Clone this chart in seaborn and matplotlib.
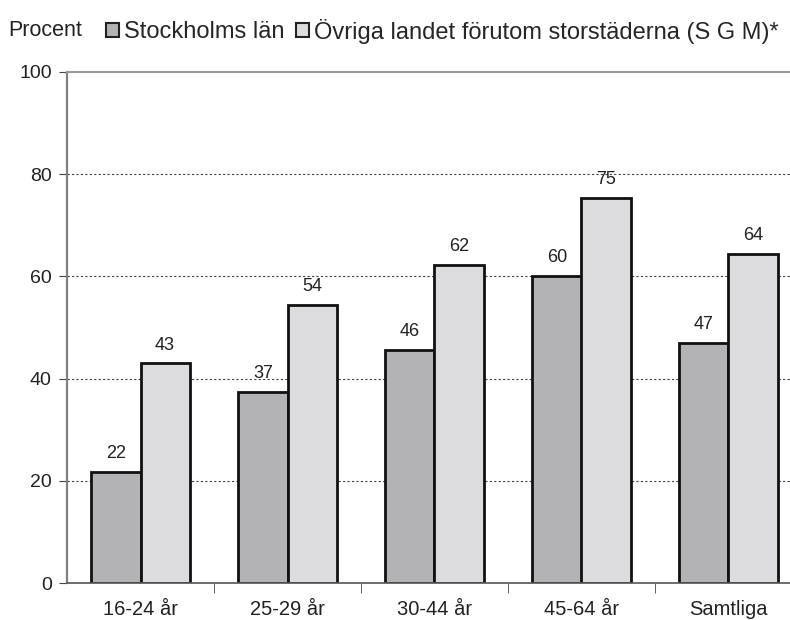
import numpy as np
import pandas as pd
import matplotlib
matplotlib.use("Agg")
import matplotlib.pyplot as plt
import seaborn as sns

categories = ['16-24 år', '25-29 år', '30-44 år', '45-64 år', 'Samtliga']
series = ['Stockholms län', 'Övriga landet förutom storstäderna (S G M)*']
stockholm = [21.7, 37.4, 45.6, 60.1, 47.0]
ovriga = [43.0, 54.4, 62.2, 75.3, 64.4]
colors = ['#b3b3b6', '#dcdcde']

df = pd.DataFrame({
    'Grupp': categories * 2,
    'Serie': [series[0]] * 5 + [series[1]] * 5,
    'Procent': stockholm + ovriga,
})

sns.set_style('white')
plt.rcParams['font.family'] = ['Liberation Sans', 'DejaVu Sans']

fig = plt.figure(figsize=(7.9, 6.2), dpi=100)
ax = fig.add_axes([67 / 790, 1 - 583 / 620, 735 / 790, 511 / 620])

sns.barplot(data=df, x='Grupp', y='Procent', hue='Serie', palette=colors,
            width=0.667, edgecolor='#111111', linewidth=2, saturation=1,
            ax=ax, legend=False)

ax.set_ylim(0, 100)
ax.set_xlim(-0.5, 4.5)
ax.set_yticks([0, 20, 40, 60, 80, 100])
ax.set_xlabel('')
ax.set_ylabel('')

for y in [20, 40, 60, 80]:
    ax.axhline(y, color='#444444', linestyle=(0, (2, 2)), linewidth=0.8, zorder=0)

for cont in ax.containers:
    ax.bar_label(cont, labels=[f'{v:.0f}' for v in cont.datavalues],
                 padding=7, fontsize=13, color='#222222')

ax.spines['right'].set_visible(False)
ax.spines['top'].set_color('#999999')
ax.spines['top'].set_linewidth(1.5)
ax.spines['left'].set_color('#808080')
ax.spines['left'].set_linewidth(1.6)
ax.spines['bottom'].set_color('#555555')
ax.spines['bottom'].set_linewidth(1.2)

ax.tick_params(axis='y', left=True, length=6, color='#444444', labelsize=14,
               labelcolor='#222222', pad=5)
ax.tick_params(axis='x', bottom=False, labelsize=14.5, labelcolor='#222222', pad=9)
ax.set_xticks(np.arange(0.5, 4.5, 1), minor=True)
ax.tick_params(axis='x', which='minor', bottom=True, length=7, color='#444444',
               direction='out')

fig.text(8 / 790, 1 - 30 / 620, 'Procent', fontsize=15.5, va='center', color='#222222')
handles = [plt.Rectangle((0, 0), 1, 1, facecolor=c, edgecolor='#222222', linewidth=1.5)
           for c in colors]
fig.legend(handles, series, loc='center left', bbox_to_anchor=(106 / 790, 1 - 31 / 620),
           ncol=2, frameon=False, fontsize=17, handlelength=0.55, handleheight=0.55,
           handletextpad=0.2, columnspacing=0.5, borderaxespad=0, borderpad=0)

fig.savefig('out.png', dpi=100)
